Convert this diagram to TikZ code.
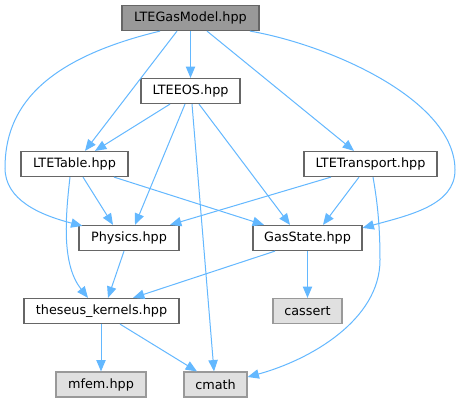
\documentclass[tikz,border=0pt]{standalone}
\usepackage{fontspec}
\setmainfont{DejaVu Sans}
\usetikzlibrary{arrows.meta}
\definecolor{edgeblue}{HTML}{63B8FF}
\definecolor{boxline}{HTML}{666666}
\definecolor{rootfill}{HTML}{999999}
\definecolor{sysfill}{HTML}{E0E0E0}
\definecolor{sysline}{HTML}{999999}
\newdimen\px \px=0.75pt
\begin{document}
\begin{tikzpicture}[x=1\px, y=-1\px,
    file/.style={draw=boxline, line width=0.9pt, fill=white, inner xsep=1pt, inner ysep=0pt,
      minimum height=25\px, font=\fontsize{9.6}{11}\selectfont},
    rootfile/.style={file, fill=rootfill},
    sysfile/.style={file, draw=sysline, fill=sysfill},
    dep/.style={draw=edgeblue, line width=1\px, -{Triangle[length=8.5pt,width=7pt]}}]
  \useasboundingbox[fill=white] (0,0) rectangle (460,403);

  %%files
  \node[rootfile, minimum width=137\px] (gasmodel) at (190.5,18) {LTEGasModel.hpp};
  \node[file, minimum width=99\px] (eos) at (190.5,91) {LTEEOS.hpp};
  \node[file, minimum width=107\px] (table) at (74.5,164) {LTETable.hpp};
  \node[file, minimum width=133\px] (transport) at (370.5,164) {LTETransport.hpp};
  \node[file, minimum width=100\px] (physics) at (129,238) {Physics.hpp};
  \node[file, minimum width=109\px] (gasstate) at (307.5,238) {GasState.hpp};
  \node[file, minimum width=155\px] (kernels) at (101.5,311) {theseus\_kernels.hpp};
  \node[sysfile, minimum width=69\px] (cassert) at (307.5,311) {cassert};
  \node[sysfile, minimum width=90\px] (mfem) at (101,384.5) {mfem.hpp};
  \node[sysfile, minimum width=63\px] (cmath) at (215.5,384.5) {cmath};

  %%from LTEGasModel
  \draw[dep] (gasmodel.south) to (eos.north);
  \draw[dep] ([xshift=-13.5\px]gasmodel.south) to ([xshift=10.5\px]table.north);
  \draw[dep] ([xshift=16.5\px]gasmodel.south) to ([xshift=-16.5\px]transport.north);
  \draw[dep] ([xshift=-30.5\px]gasmodel.south) .. controls (40,60) and (5,110) .. (5,168)
    .. controls (5,200) and (40,215) .. ([xshift=4\px,yshift=-1\px]physics.north west);
  \draw[dep] ([xshift=59.5\px]gasmodel.south) .. controls (330,45) and (455,100) .. (455,170)
    .. controls (455,205) and (410,215) .. ([yshift=-3\px]gasstate.north east);

  %%from LTEEOS
  \draw[dep] ([xshift=-20.5\px]eos.south) to ([xshift=20.5\px]table.north);
  \draw[dep] ([xshift=-5.5\px]eos.south) to ([xshift=6\px]physics.north);
  \draw[dep] ([xshift=1.5\px]eos.south) to ([xshift=-1.5\px]cmath.north);
  \draw[dep] ([xshift=8.5\px]eos.south) to ([xshift=-17.5\px]gasstate.north);

  %%from LTETable
  \draw[dep] ([xshift=8.5\px]table.south) to ([xshift=-16\px]physics.north);
  \draw[dep] ([xshift=39.5\px]table.south) to ([xshift=-43.5\px]gasstate.north);
  \draw[dep] ([xshift=-4.5\px]table.south) .. controls (65,220) and (62,265)
    .. ([xshift=-13.5\px]kernels.north);

  %%from LTETransport
  \draw[dep] ([xshift=-39.5\px]transport.south) to ([xshift=41\px]physics.north);
  \draw[dep] ([xshift=-11.5\px]transport.south) to ([xshift=15.5\px]gasstate.north);
  \draw[dep] ([xshift=2.5\px]transport.south) .. controls (378,205) and (380,230) .. (380,260)
    .. controls (380,320) and (310,360) .. ([yshift=7.5\px]cmath.east);

  %%lower level
  \draw[dep] ([xshift=-5\px]physics.south) to ([xshift=6.5\px]kernels.north);
  \draw[dep] ([xshift=-32.5\px]gasstate.south) to ([xshift=31.5\px]kernels.north);
  \draw[dep] (gasstate.south) to (cassert.north);
  \draw[dep] ([xshift=-0.5\px]kernels.south) to (mfem.north);
  \draw[dep] ([xshift=18.5\px]kernels.south) to ([xshift=-18.5\px]cmath.north);
\end{tikzpicture}
\end{document}
